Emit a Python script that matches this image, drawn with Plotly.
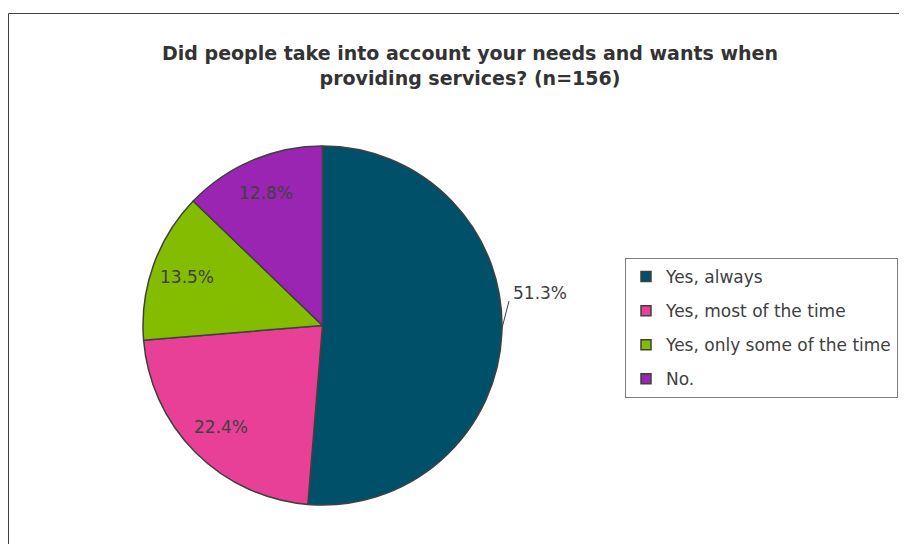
import math
import plotly.graph_objects as go

# ---- data ----
categories = ["Yes, always", "Yes, most of the time", "Yes, only some of the time", "No."]
percentages = [51.3, 22.4, 13.5, 12.8]
colors = ["#00506A", "#E84096", "#84BC00", "#9A25B2"]
title_text = "Did people take into account your needs and wants when<br>providing services? (n=156)"

W, H = 907, 544
OFF = 8  # page body margin offset
FONT = "DejaVu Sans"
TXT = "#404040"


def px(x):
    return (x - OFF) / W


def py(y):
    return 1 - (y - OFF) / H


# pie geometry (screen px)
CX, CY, R = 322.5, 325.5, 179.5

fig = go.Figure()
fig.add_trace(go.Pie(
    labels=categories,
    values=percentages,
    sort=False,
    direction="clockwise",
    rotation=0,
    marker=dict(colors=colors, line=dict(color="#404040", width=1.5)),
    textinfo="none",
    domain=dict(x=[px(CX - R), px(CX + R)], y=[py(CY + R), py(CY - R)]),
    showlegend=False,
    hoverinfo="label+percent",
))

# legend entries (one per category) so rows can be spaced like the original
for i, (cat, col) in enumerate(zip(categories, colors)):
    fig.add_trace(go.Scatter(
        x=[None], y=[None], mode="markers", name=cat,
        marker=dict(symbol="square", size=10, color=col,
                    line=dict(color="#404040", width=1.5)),
        legendgroup=f"g{i}", showlegend=True,
    ))

# data labels: inside ones placed at 0.8 radius along each slice's mid-angle
total = sum(percentages)
cum = 0.0
for i, v in enumerate(percentages):
    mid = (cum + v / 2) / total * 2 * math.pi
    cum += v
    if i == 0:
        continue
    lx = CX + 0.8 * R * math.sin(mid)
    ly = CY - 0.8 * R * math.cos(mid)
    fig.add_annotation(
        x=px(lx), y=py(ly), xref="paper", yref="paper",
        text=f"{v:.1f}%", showarrow=False,
        xanchor="center", yanchor="middle",
        font=dict(family=FONT, size=17, color=TXT),
    )

# outside label for the largest slice, with leader line
fig.add_annotation(
    x=px(511), y=py(293), xref="paper", yref="paper",
    text=f"{percentages[0]:.1f}%", showarrow=False,
    xanchor="left", yanchor="middle",
    font=dict(family=FONT, size=17, color=TXT),
)
fig.add_shape(type="line", xref="paper", yref="paper",
              x0=px(501.5), y0=py(330), x1=px(509), y1=py(301),
              line=dict(color="#404040", width=1))

# outer chart frame
fig.add_shape(type="rect", xref="paper", yref="paper",
              x0=px(8.5), y0=-0.2, x1=1.2, y1=py(13.5),
              line=dict(color="#404040", width=1), layer="below")

fig.update_layout(
    width=W, height=H,
    margin=dict(l=0, r=0, t=0, b=0),
    paper_bgcolor="white", plot_bgcolor="white",
    title=dict(text=f"<b>{title_text}</b>", x=px(470), xanchor="center",
               y=py(60), yanchor="top", yref="container",
               font=dict(family=FONT, size=19, color="#333333")),
    xaxis=dict(visible=False), yaxis=dict(visible=False),
    legend=dict(x=px(625), y=py(258), xanchor="left", yanchor="top",
                bordercolor="#7f7f7f", borderwidth=1, bgcolor="white",
                font=dict(family=FONT, size=17, color=TXT),
                tracegroupgap=9, itemwidth=30),
)

fig.write_html("out.html")
